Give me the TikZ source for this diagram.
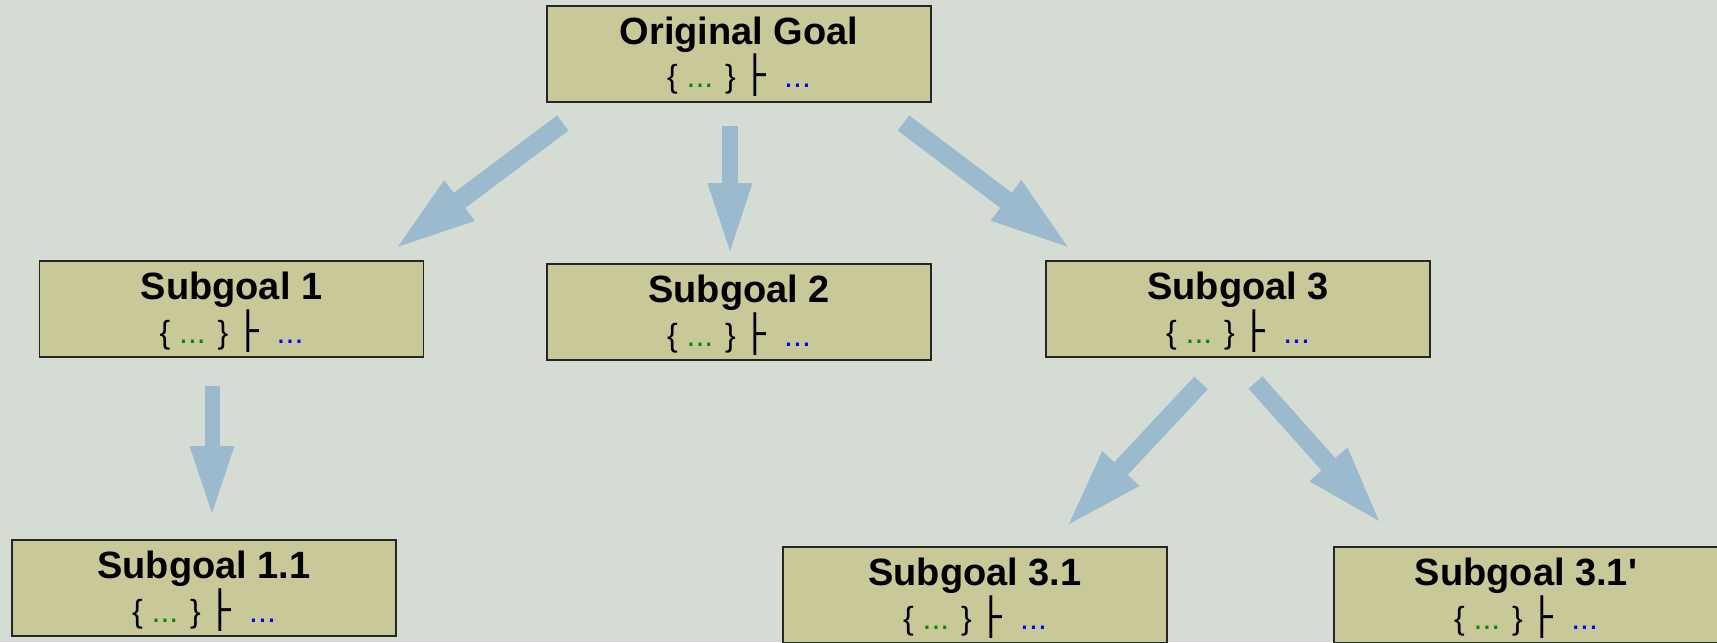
\documentclass[tikz,border=0pt]{standalone}
\usepackage{fontspec}
\setmainfont{Liberation Sans}
\newfontfamily\tackfont{DejaVu Sans}
\usetikzlibrary{arrows.meta}
\definecolor{bgcol}{RGB}{212,220,212}
\definecolor{goalfill}{RGB}{200,200,152}
\definecolor{arrowcol}{RGB}{155,186,206}
\definecolor{hypgreen}{RGB}{0,140,0}
\definecolor{concblue}{RGB}{0,0,255}
\newcommand{\seqline}{{\fontsize{16}{20}\selectfont\mdseries\{ \textcolor{hypgreen}{...} \}\ {\tackfont\fontsize{18}{20}\selectfont ├}\ \ \textcolor{concblue}{...}}}
\tikzset{
  goal/.style = {rectangle, draw=black!85, line width=0.6pt, fill=goalfill, minimum width=192pt, minimum height=48pt,
                 inner sep=0pt, align=center, font=\fontsize{19}{20}\selectfont\bfseries, text height=34pt, text depth=0pt},
  flow/.style args = {#1/#2/#3}{draw=arrowcol, line width=#1, -{Triangle[length=#2, width=#3, line width=0pt]}}
}
\begin{document}
\begin{tikzpicture}[x=0.5pt, y=-0.5pt]
  \useasboundingbox (0,0) rectangle (1717,642);
  \fill[bgcol] (0,0) rectangle (1717,642);
  % goal tree
  \node[goal] (orig)  at ( 739, 54) {Original Goal\\\seqline};
  \node[goal] (sub1)  at ( 231.5,309) {Subgoal 1\\\seqline};
  \node[goal] (sub2)  at ( 739,312) {Subgoal 2\\\seqline};
  \node[goal] (sub3)  at (1238,309) {Subgoal 3\\\seqline};
  \node[goal] (sub11) at ( 204,588) {Subgoal 1.1\\\seqline};
  \node[goal] (sub31) at ( 975,595) {Subgoal 3.1\\\seqline};
  \node[goal] (sub31p) at (1526,595) {Subgoal 3.1\textquotesingle\\\seqline};
  % reduction arrows
  \draw[flow={9.5pt/38.5pt/25.5pt}] ([shift={(-176.2,69)}]orig.center) -- ([shift={(166.4,-62.3)}]sub1.center);
  \draw[flow={8pt/34pt/22.5pt}]     ([shift={(-9,72)}]orig.center)     -- ([shift={(-9,-61)}]sub2.center);
  \draw[flow={9.5pt/38.5pt/25.5pt}] ([shift={(164.5,69)}]orig.center)  -- ([shift={(-170.5,-62.3)}]sub3.center);
  \draw[flow={7.5pt/33.5pt/22.5pt}] ([shift={(-19.5,77)}]sub1.center)  -- ([shift={(8,-75)}]sub11.center);
  \draw[flow={9.25pt/38pt/25.5pt}]  ([shift={(-37,74)}]sub3.center)    -- ([shift={(94,-71)}]sub31.center);
  \draw[flow={9.25pt/38pt/25.5pt}]  ([shift={(17.5,73.5)}]sub3.center) -- ([shift={(-147,-74)}]sub31p.center);
\end{tikzpicture}
\end{document}
